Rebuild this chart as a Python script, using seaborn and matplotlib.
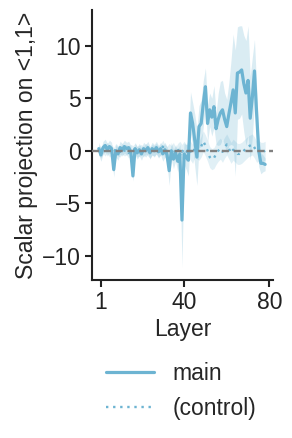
import numpy as np
import pandas as pd
import matplotlib
matplotlib.use("Agg")
import matplotlib.pyplot as plt
import seaborn as sns
from matplotlib.lines import Line2D

# ---- data ----
layers = list(range(0, 79))

main_mean = [
    0.2, -0.4, 0.3, 0.5, 0.1, 0.4, 0.2, -1.8, 0.0, -0.3,
    0.3, 0.1, 0.4, 0.2, 0.3, -0.1, -2.4, 0.2, -0.2, 0.1,
    -0.3, 0.2, 0.0, 0.3, -0.2, 0.2, 0.0, 0.3, -0.1, 0.2,
    -0.3, 0.1, -0.4, -1.9, 0.0, -0.8, -0.2, -1.0, -0.3, -6.6,
    -0.3, -0.6, -0.9, 3.6, 2.6, 1.0, -0.6, 2.3, 2.6, 4.5,
    6.1, 2.6, 3.9, 3.2, 4.2, 2.1, 3.0, 3.6, 3.9, 3.0,
    2.3, 3.5, 4.6, 5.8, 3.6, 7.4, 7.5, 7.7, 6.4, 5.5,
    6.7, 3.1, 5.1, 7.6, 3.6, 0.0, -1.2, -1.2, -1.3,
]
main_ci = [
    0.6, 0.6, 0.6, 0.6, 0.6, 0.6, 0.6, 0.7, 0.6, 0.6,
    0.6, 0.6, 0.6, 0.6, 0.6, 0.6, 0.5, 0.6, 0.6, 0.6,
    0.6, 0.6, 0.6, 0.6, 0.6, 0.6, 0.6, 0.6, 0.6, 0.6,
    0.7, 0.7, 0.8, 1.4, 0.8, 0.9, 0.8, 1.0, 0.9, 4.5,
    1.0, 1.2, 1.5, 2.0, 2.0, 2.5, 2.7, 2.0, 2.2, 2.2,
    1.8, 1.8, 1.6, 1.8, 2.0, 1.5, 2.5, 3.0, 2.8, 2.5,
    2.6, 3.0, 4.0, 5.3, 6.0, 4.4, 4.4, 4.2, 4.6, 5.0,
    5.2, 4.0, 3.8, 3.0, 2.5, 1.5, 1.0, 0.8, 0.6,
]
control_mean = [
    0.1, -0.2, 0.2, 0.0, 0.3, -0.1, 0.1, -0.2, 0.2, 0.0,
    -0.1, 0.2, 0.0, 0.1, -0.2, 0.1, 0.0, 0.2, -0.1, 0.0,
    0.1, -0.1, 0.2, 0.0, -0.2, 0.1, 0.0, 0.2, -0.1, 0.1,
    0.4, 0.0, -0.2, 0.1, -0.1, 0.2, -0.3, 0.0, 0.2, -0.1,
    0.1, -0.2, 0.2, 0.0, -0.3, 0.3, 0.1, 0.0, 0.4, 0.9,
    0.5, 0.0, -0.6, -0.8, -0.7, -0.3, 0.0, 0.2, -0.1, 0.3,
    0.6, 0.2, -0.2, 0.1, -0.1, -0.3, -0.3, -0.2, 0.0, 0.2,
    0.4, 0.5, 0.6, 0.3, -0.1, 0.0, -0.2, -0.1, 0.0,
]
control_ci = [
    0.5, 0.5, 0.5, 0.5, 0.5, 0.5, 0.5, 0.5, 0.5, 0.5,
    0.5, 0.5, 0.5, 0.5, 0.5, 0.5, 0.5, 0.5, 0.5, 0.5,
    0.5, 0.5, 0.5, 0.5, 0.5, 0.5, 0.5, 0.5, 0.5, 0.5,
    0.6, 0.6, 0.6, 0.6, 0.6, 0.6, 0.6, 0.7, 0.7, 0.7,
    0.8, 0.8, 0.8, 0.9, 0.9, 0.9, 0.9, 0.9, 1.0, 1.0,
    1.0, 1.0, 1.0, 1.0, 1.0, 1.0, 1.0, 1.0, 1.0, 1.0,
    1.0, 1.0, 1.0, 1.0, 1.0, 1.0, 1.0, 1.0, 1.0, 1.0,
    1.0, 1.0, 1.0, 1.0, 1.0, 1.0, 1.0, 0.9, 0.9,
]
xticks = [1, 40, 80]
yticks = [-10, -5, 0, 5, 10]
legend_labels = ["main", "(control)"]

# ---- style ----
sns.set_style("ticks")
plt.rcParams["font.family"] = ["Liberation Sans", "DejaVu Sans"]
FS = 16.5
plt.rcParams["font.size"] = FS

color = "#6db4d2"

fig = plt.figure(figsize=(2.92, 4.38), dpi=100)
ax = fig.add_axes([0.315, 0.361, 0.62, 0.616])

df = pd.DataFrame({
    "layer": layers,
    "main": main_mean,
    "control": control_mean,
})
mm = np.array(main_mean); mc = np.array(main_ci)
cm = np.array(control_mean); cc = np.array(control_ci)

ax.fill_between(layers, cm - cc, cm + cc, color=color, alpha=0.2, lw=0)
ax.fill_between(layers, mm - mc, mm + mc, color=color, alpha=0.25, lw=0)
sns.lineplot(data=df, x="layer", y="control", ax=ax, color=color,
             lw=1.7, linestyle=(0, (1, 2)), errorbar=None)
sns.lineplot(data=df, x="layer", y="main", ax=ax, color=color,
             lw=2.3, errorbar=None)
ax.axhline(0, color="#808080", ls=(0, (3, 2)), lw=1.7, zorder=3)

ax.set_xlim(-3.2, 81.7)
ax.set_ylim(-12.3, 13.4)
ax.set_xticks(xticks)
ax.set_yticks(yticks)
ax.set_xticklabels([str(t) for t in xticks])
ax.set_yticklabels([("\u2212" + str(abs(t))) if t < 0 else str(t) for t in yticks])
ax.set_xlabel("Layer", fontsize=FS, labelpad=3)
ax.set_ylabel("Scalar projection on <1,1>", fontsize=FS, labelpad=3)
ax.tick_params(axis="both", labelsize=FS, length=5, width=1.5, colors="#222222", pad=3)
for s in ["left", "bottom"]:
    ax.spines[s].set_linewidth(1.5)
    ax.spines[s].set_color("#222222")
sns.despine(ax=ax)

handles = [Line2D([], [], color=color, lw=2.3),
           Line2D([], [], color=color, lw=1.7, linestyle=(0, (1, 2)))]
fig.legend(handles, legend_labels, loc="center", bbox_to_anchor=(0.62, 0.107),
           frameon=False, fontsize=FS, handlelength=2.1, handletextpad=0.8,
           labelspacing=0.5)

fig.savefig("out.png", dpi=100)
